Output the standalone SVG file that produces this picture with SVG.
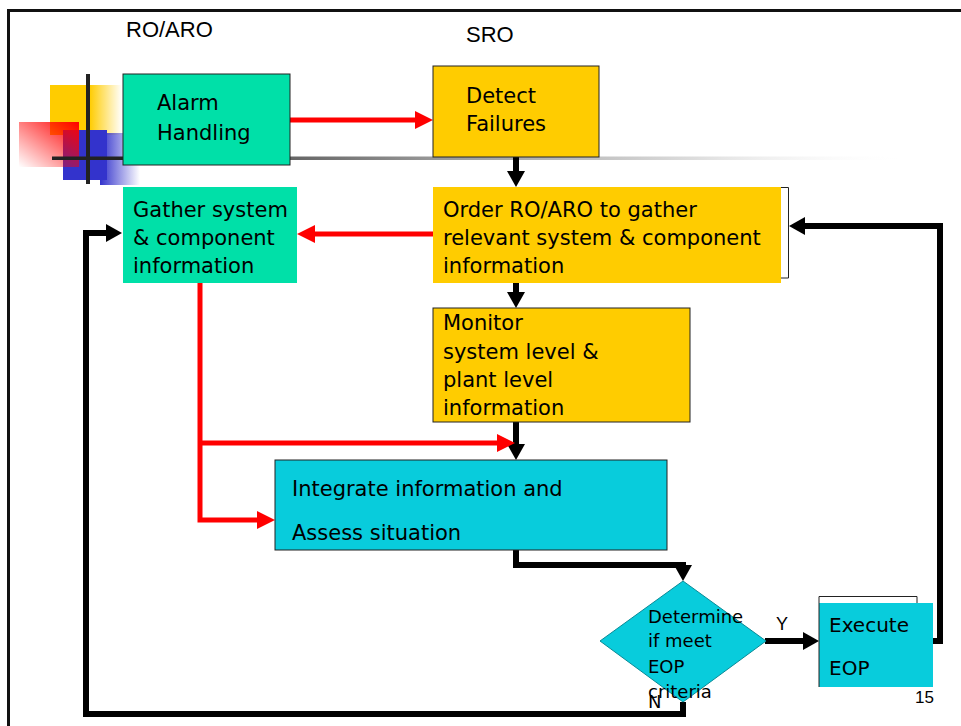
<svg xmlns="http://www.w3.org/2000/svg" width="961" height="726" viewBox="0 0 961 726">
<style>
.t{font-family:"DejaVu Sans","Verdana",sans-serif;font-size:21px;fill:#000}
.s{font-family:"DejaVu Sans","Verdana",sans-serif;font-size:18px;fill:#000}
.h{font-family:"Liberation Sans",Arial,sans-serif;font-size:22px;fill:#000}
.g{fill:#00E0A8}
.y{fill:#FFCC00}
.c{fill:#08CCDC}
.b{stroke:#222;stroke-width:1}
.red{fill:none;stroke:#FF0000;stroke-width:5;marker-end:url(#ar)}
.blk{fill:none;stroke:#000;stroke-width:6;marker-end:url(#ab)}
.ln{fill:none;stroke:#000;stroke-width:6}
</style>
<defs>
<marker id="ar" markerUnits="userSpaceOnUse" markerWidth="20" markerHeight="20" viewBox="0 0 20 20" refX="0" refY="10" orient="auto"><path d="M0,1 L18,10 L0,19 z" fill="#FF0000"/></marker>
<marker id="ab" markerUnits="userSpaceOnUse" markerWidth="20" markerHeight="20" viewBox="0 0 20 20" refX="0" refY="10" orient="auto"><path d="M0,1 L16,10 L0,19 z" fill="#000"/></marker>
<linearGradient id="gy" x1="0" y1="0" x2="1" y2="0"><stop offset="0" stop-color="#FFCC00"/><stop offset="0.55" stop-color="#FFCC00"/><stop offset="1" stop-color="#FFCC00" stop-opacity="0"/></linearGradient>
<linearGradient id="gr" x1="1" y1="0" x2="0" y2="1"><stop offset="0" stop-color="#FF0000"/><stop offset="1" stop-color="#FF0000" stop-opacity="0"/></linearGradient>
<linearGradient id="gb" x1="0" y1="0" x2="1" y2="0"><stop offset="0" stop-color="#3333CC"/><stop offset="1" stop-color="#3333CC" stop-opacity="0"/></linearGradient>
<linearGradient id="gl" gradientUnits="userSpaceOnUse" x1="52" y1="0" x2="910" y2="0"><stop offset="0" stop-color="#222"/><stop offset="0.09" stop-color="#222"/><stop offset="0.28" stop-color="#666"/><stop offset="0.45" stop-color="#999"/><stop offset="0.75" stop-color="#ddd"/><stop offset="1" stop-color="#fff" stop-opacity="0"/></linearGradient>
</defs>
<rect x="0" y="0" width="961" height="726" fill="#fff"/>
<rect x="8.5" y="10.5" width="1000" height="800" fill="none" stroke="#111" stroke-width="3"/>
<g id="logo">
<rect x="50" y="85" width="72" height="50" fill="url(#gy)"/>
<rect x="63" y="130" width="44" height="50" fill="#3333CC"/>
<rect x="100" y="133" width="40" height="52" fill="url(#gb)"/>
<rect x="19" y="122" width="60" height="45" fill="url(#gr)"/>
<rect x="52" y="156.5" width="858" height="3.5" fill="url(#gl)"/>
<rect x="86" y="74" width="4" height="110" fill="#222"/>
</g>
<text class="h" x="126" y="37">RO/ARO</text>
<text class="h" x="466" y="42">SRO</text>
<g id="connectors">
<path class="red" d="M290,120 H415"/>
<path class="blk" d="M516,157 V171"/>
<path class="red" d="M433,234 H315"/>
<path class="blk" d="M516,283 V292"/>
<path class="blk" d="M516,422 V444"/>
<path class="red" d="M200,283 V520 H257"/>
<path class="red" d="M200,443 H497"/>
<path class="ln" d="M516,550 V565 H686"/>
<path class="blk" d="M683,562 V565"/>
<path class="blk" d="M765,641 H803"/>
<path class="blk" d="M917,641 H940 V226 H805"/>
<path class="blk" d="M683,702 V714 H86 V233 H106"/>
</g>
<g id="alarm">
<rect class="g b" x="123" y="74" width="167" height="91"/>
<text class="t" x="157" y="110">Alarm</text>
<text class="t" x="157" y="140">Handling</text>
</g>
<g id="detect">
<rect class="y b" x="433" y="66" width="166" height="91"/>
<text class="t" x="466" y="103">Detect</text>
<text class="t" x="466" y="131">Failures</text>
</g>
<g id="order">
<rect class="y" x="433" y="187" width="348" height="96"/>
<path d="M781,187.5 H788.5 V278 H781" fill="none" stroke="#222" stroke-width="1"/>
<text class="t" x="443" y="217">Order RO/ARO to gather</text>
<text class="t" x="443" y="245">relevant system &amp; component</text>
<text class="t" x="443" y="273">information</text>
</g>
<g id="gather">
<rect class="g" x="123" y="187" width="174" height="96"/>
<text class="t" x="133" y="217">Gather system</text>
<text class="t" x="133" y="245">&amp; component</text>
<text class="t" x="133" y="273">information</text>
</g>
<g id="monitor">
<rect class="y b" x="433" y="308" width="257" height="114"/>
<text class="t" x="443" y="330">Monitor</text>
<text class="t" x="443" y="359">system level &amp;</text>
<text class="t" x="443" y="387">plant level</text>
<text class="t" x="443" y="415">information</text>
</g>
<g id="integrate">
<rect class="c b" x="275" y="460" width="392" height="90"/>
<text class="t" x="292" y="496">Integrate information and</text>
<text class="t" x="292" y="540">Assess situation</text>
</g>
<g id="decision">
<polygon class="c" points="683,581 766,641 683,702 600,641" stroke="#0a8a96" stroke-width="1"/>
<text class="s" x="648" y="623">Determine</text>
<text class="s" x="648" y="647">if meet</text>
<text class="s" x="648" y="673">EOP</text>
<text class="s" x="648" y="698">criteria</text>
<text class="s" x="648" y="708">N</text>
<text class="h" x="776" y="630" style="font-size:18px">Y</text>
</g>
<g id="execute">
<rect class="c" x="819" y="603" width="114" height="84"/>
<path d="M819,687 V596.5 H917 V603" fill="none" stroke="#222" stroke-width="1"/>
<text class="t" x="829" y="632" style="font-size:20px">Execute</text>
<text class="t" x="829" y="675" style="font-size:20px">EOP</text>
</g>
<text class="h" x="915" y="703" style="font-size:17px">15</text>
</svg>
